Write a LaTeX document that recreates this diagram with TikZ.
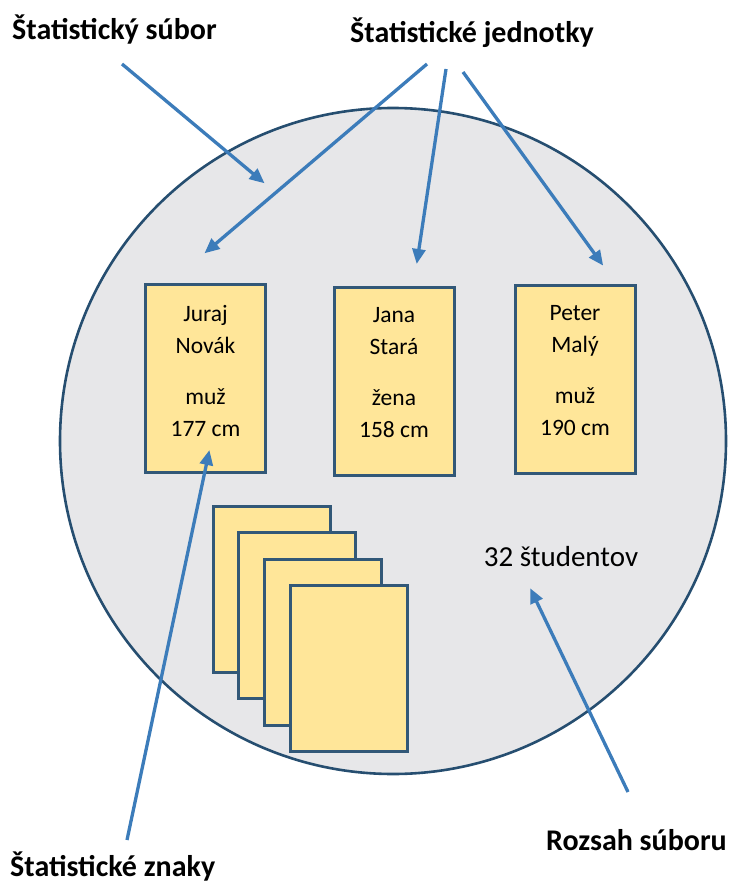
\documentclass[tikz,border=0pt]{standalone}
\usepackage{fontspec}
\setmainfont{Carlito}
\usetikzlibrary{arrows.meta}
\definecolor{arrowblue}{RGB}{60,124,186}
\definecolor{rimblue}{RGB}{38,78,112}
\definecolor{cardedge}{RGB}{50,88,120}
\definecolor{cardfill}{RGB}{255,230,153}
\definecolor{setfill}{RGB}{231,231,233}
\tikzset{
  titletext/.style={font=\bfseries\fontsize{30}{36}\selectfont, inner sep=0pt},
  cardtext/.style={font=\fontsize{23.5}{32}\selectfont, align=center, inner sep=0pt},
  card/.style={draw=cardedge, line width=3pt, fill=cardfill, inner sep=0pt,
    minimum width=120pt, minimum height=188pt},
  pointer/.style={draw=arrowblue, line width=3.3pt,
    -{Triangle[length=15pt,width=13pt]}, shorten >=-2pt},
}
\begin{document}
\begin{tikzpicture}[x=1pt,y=-1pt]
\useasboundingbox (0,0) rectangle (729,882);
% statistical set
\node[circle, draw=rimblue, line width=2.6pt, fill=setfill, minimum size=666pt, inner sep=0pt] (set) at (393,441) {};
% three units
\node[card] (b1) at (205.5,378.5) {};
\node[card] (b2) at (394,381) {};
\node[card] (b3) at (575,379.5) {};
\node[cardtext] (n1) at (205.5,371) {Juraj\\Novák\\[19pt]muž\\177 cm};
\node[cardtext] (n2) at (394,373) {Jana\\Stará\\[19pt]žena\\158 cm};
\node[cardtext] (n3) at (575,371) {Peter\\Malý\\[19pt]muž\\190 cm};
% stack of cards
\node[card, minimum width=117pt, minimum height=166pt] (c1) at (272,589) {};
\node[card, minimum width=117pt, minimum height=166pt] (c2) at (297,615.5) {};
\node[card, minimum width=117pt, minimum height=166pt] (c3) at (322.5,642.5) {};
\node[card, minimum width=117pt, minimum height=166pt] (c4) at (348.5,668.5) {};
% size
\node[font=\fontsize{29}{34}\selectfont, anchor=base, inner sep=0pt] (size) at (561,566) {32 študentov};
% titles
\node[titletext, anchor=base west] (t1) at (12,40) {Štatistický súbor};
\node[titletext, anchor=base west] (t2) at (350,43) {Štatistické jednotky};
\node[titletext, anchor=base west] (t3) at (10,876) {Štatistické znaky};
\node[titletext, anchor=base west] (t4) at (546,850) {Rozsah súboru};
% arrow ends
\coordinate (s1) at (122,64);
\coordinate (e1) at (263,182);
\coordinate (s2) at (427,64);
\coordinate (e2) at (206,252);
\coordinate (s3) at (446,69);
\coordinate (e3) at (417,262);
\coordinate (s4) at (463,72);
\coordinate (e4) at (602,264);
\coordinate (s5) at (127,840);
\coordinate (e5) at (209,452);
\coordinate (s6) at (628,792);
\coordinate (e6) at (531,590);
\draw[pointer] (s1) -- (e1);
\draw[pointer] (s2) -- (e2);
\draw[pointer] (s3) -- (e3);
\draw[pointer] (s4) -- (e4);
\draw[pointer] (s5) -- (e5);
\draw[pointer] (s6) -- (e6);
\end{tikzpicture}
\end{document}
